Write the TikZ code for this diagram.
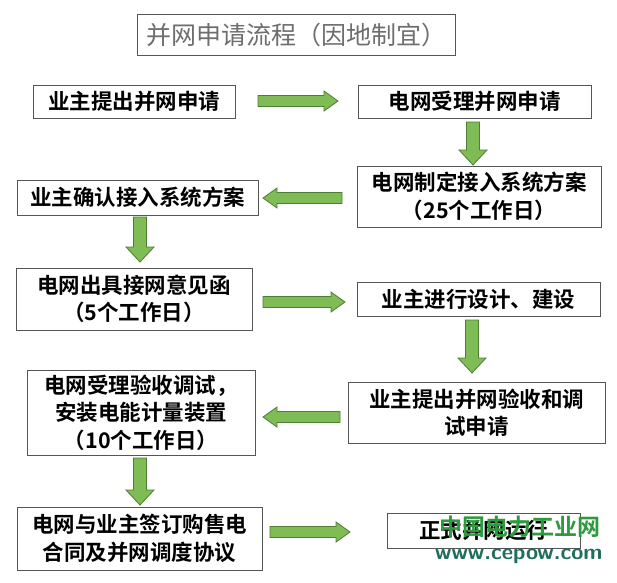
\documentclass[tikz,border=0pt]{standalone}
\usepackage{fontspec}
\newfontfamily\cjk{Noto Sans CJK SC}
\newfontfamily\cjkb{Noto Sans CJK SC Bold}
\usetikzlibrary{calc}
\definecolor{arrfill}{HTML}{80BC55}
\definecolor{arrline}{HTML}{4E7D34}
\definecolor{boxline}{HTML}{555555}
\definecolor{titlegray}{HTML}{6E6E6E}
\definecolor{wmgreen}{HTML}{2E9A3E}
\definecolor{wmteal}{HTML}{1F6F5A}
\tikzset{
  box/.style={draw=boxline, line width=0.9pt, fill=white, align=center, inner sep=0pt,
    font=\cjkb\fontsize{21.5}{27.5}\selectfont},
  titlebox/.style={draw=boxline, line width=0.8pt, fill=white, inner sep=0pt,
    font=\cjk\fontsize{25}{30}\selectfont, text=titlegray},
  arr/.style={fill=arrfill, draw=arrline, line width=0.8pt, line join=miter}
}
\newcommand{\rarrow}[2]{\filldraw[arr] let \p1=(#1), \p2=(#2) in
  (\x1,\y1+5.5) -- (\x2-14,\y1+5.5) -- (\x2-14,\y1+10) -- (\x2,\y1) -- (\x2-14,\y1-10) -- (\x2-14,\y1-5.5) -- (\x1,\y1-5.5) -- cycle;}
\newcommand{\larrow}[2]{\filldraw[arr] let \p1=(#1), \p2=(#2) in
  (\x1,\y1+5.5) -- (\x2+14,\y1+5.5) -- (\x2+14,\y1+10) -- (\x2,\y1) -- (\x2+14,\y1-10) -- (\x2+14,\y1-5.5) -- (\x1,\y1-5.5) -- cycle;}
\newcommand{\darrow}[2]{\filldraw[arr] let \p1=(#1), \p2=(#2) in
  (\x1-6.5,\y1) -- (\x1-6.5,\y2+15) -- (\x1-14,\y2+15) -- (\x1,\y2) -- (\x1+14,\y2+15) -- (\x1+6.5,\y2+15) -- (\x1+6.5,\y1) -- cycle;}
\begin{document}
\begin{tikzpicture}[x=1pt,y=-1pt]
\useasboundingbox (0,0) rectangle (617,582);
\fill[white] (0,0) rectangle (617,582);
% title
\node[titlebox, minimum width=318pt, minimum height=41pt] (title) at (296,34.5) {并网申请流程（因地制宜）};
% boxes
\node[box, minimum width=202pt, minimum height=33pt] (b1) at (134,101.5) {业主提出并网申请};
\node[box, minimum width=233pt, minimum height=33pt] (b2) at (474.5,101.5) {电网受理并网申请};
\node[box, minimum width=244pt, minimum height=61pt] (b3) at (479,196.5) {电网制定接入系统方案\\（25个工作日）};
\node[box, minimum width=241pt, minimum height=35pt] (b4) at (137.5,197.5) {业主确认接入系统方案};
\node[box, minimum width=236pt, minimum height=62pt] (b5) at (134,299) {电网出具接网意见函\\（5个工作日）};
\node[box, minimum width=243pt, minimum height=34pt] (b6) at (478.5,299) {业主进行设计、建设};
\node[box, minimum width=257pt, minimum height=61pt] (b7) at (476.5,412.5) {业主提出并网验收和调\\试申请};
\node[box, minimum width=228pt, minimum height=85pt] (b8) at (141,412.5) {电网受理验收调试，\\安装电能计量装置\\（10个工作日）};
\node[box, minimum width=245pt, minimum height=63pt] (b9) at (139.5,538.5) {电网与业主签订购售电\\合同及并网调度协议};
\node[box, minimum width=193pt, minimum height=35pt] (b10) at (483.5,530.5) {正式并网运行};
% arrow end points
\coordinate (a1s) at (258,101);  \coordinate (a1e) at (338,101);
\coordinate (a2s) at (473,122);  \coordinate (a2e) at (473,165);
\coordinate (a3s) at (342,198);  \coordinate (a3e) at (263,198);
\coordinate (a4s) at (140,217);  \coordinate (a4e) at (140,262);
\coordinate (a5s) at (263,302);  \coordinate (a5e) at (345,302);
\coordinate (a6s) at (472,320);  \coordinate (a6e) at (472,373);
\coordinate (a7s) at (340,417);  \coordinate (a7e) at (263,417);
\coordinate (a8s) at (140,458);  \coordinate (a8e) at (140,505);
\coordinate (a9s) at (270,532);  \coordinate (a9e) at (350,532);
\rarrow{a1s}{a1e}
\darrow{a2s}{a2e}
\larrow{a3s}{a3e}
\darrow{a4s}{a4e}
\rarrow{a5s}{a5e}
\darrow{a6s}{a6e}
\larrow{a7s}{a7e}
\darrow{a8s}{a8e}
\rarrow{a9s}{a9e}
% watermark
\node[font=\cjkb\fontsize{23}{25}\selectfont, text=wmgreen, anchor=east] (wm1) at (604,527) {中国电力工业网};
\node[font=\bfseries\sffamily\fontsize{22}{24}\selectfont, text=wmteal, anchor=east] (wm2) at (606,556) {www.cepow.com};
\end{tikzpicture}
\end{document}
